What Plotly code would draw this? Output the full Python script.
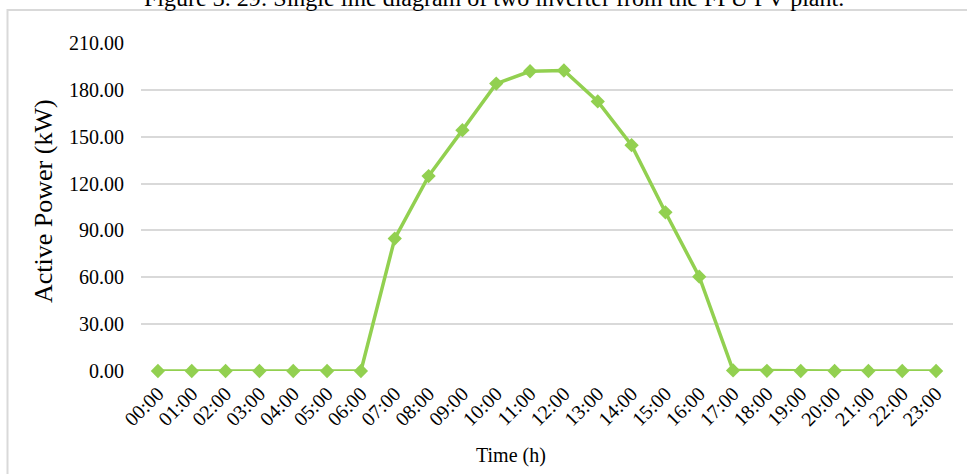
import plotly.graph_objects as go

# Hourly active power output of the PV plant
hours = [f"{h:02d}:00" for h in range(24)]
active_power_kw = [0.0, 0.0, 0.0, 0.0, 0.0, 0.0, 0.0,
                   84.8, 124.8, 154.2, 184.0, 191.9, 192.4, 172.6,
                   144.6, 101.6, 60.4, 0.4, 0.1, 0.0, 0.0, 0.0, 0.0, 0.0]
y_ticks = [0, 30, 60, 90, 120, 150, 180, 210]

W, H = 967, 474
ML, MR, MT, MB = 141, 14, 43, 103
PW, PH = W - ML - MR, H - MT - MB

FONT = "Liberation Serif, Times New Roman, serif"
GREEN = "#92D050"
GRID = "#D9D9D9"


def px_x(px):
    return (px - ML) / PW


def px_y(py):
    return (H - MB - py) / PH


fig = go.Figure()
fig.add_trace(go.Scatter(
    x=list(range(len(hours))),
    y=active_power_kw,
    mode="lines+markers",
    line=dict(color=GREEN, width=3.5),
    marker=dict(symbol="diamond", size=11, color=GREEN),
    showlegend=False,
    cliponaxis=False,
))

fig.update_layout(
    width=W, height=H,
    margin=dict(l=ML, r=MR, t=MT, b=MB),
    paper_bgcolor="white",
    plot_bgcolor="white",
    font=dict(family=FONT, size=20, color="#000000"),
    xaxis=dict(
        range=[-0.5, 23.5],
        tickmode="array",
        tickvals=list(range(len(hours))),
        ticktext=hours,
        tickangle=-45,
        showgrid=False,
        zeroline=False,
        showline=False,
        ticks="",
        tickfont=dict(family=FONT, size=20, color="#000000"),
        ticklabelstandoff=6,
    ),
    yaxis=dict(
        range=[0, 210],
        tickmode="array",
        tickvals=y_ticks,
        tickformat=".2f",
        showgrid=True,
        gridcolor=GRID,
        gridwidth=1.5,
        zeroline=False,
        showline=False,
        ticks="",
        tickfont=dict(family=FONT, size=20, color="#000000"),
        ticklabelstandoff=16,
    ),
    shapes=[
        # chart frame (left and top edges visible, rest runs off the page)
        dict(type="rect", xref="paper", yref="paper",
             x0=px_x(7.5), x1=px_x(W + 10), y0=px_y(H + 10), y1=px_y(10),
             line=dict(color=GRID, width=2), fillcolor="rgba(0,0,0,0)",
             layer="below"),
    ],
    annotations=[
        dict(text="Figure 3. 29: Single line diagram of two inverter from the FPU PV plant.",
             xref="paper", yref="paper", x=px_x(494), y=px_y(13),
             xanchor="center", yanchor="bottom", showarrow=False,
             font=dict(family=FONT, size=24, color="#000000")),
        dict(text="Active Power (kW)", xref="paper", yref="paper",
             x=px_x(43), y=px_y(201), xanchor="center", yanchor="middle",
             textangle=-90, showarrow=False,
             font=dict(family=FONT, size=26, color="#000000")),
        dict(text="Time (h)", xref="paper", yref="paper",
             x=px_x(511), y=px_y(455), xanchor="center", yanchor="middle",
             showarrow=False,
             font=dict(family=FONT, size=20, color="#000000")),
    ],
)

fig.write_html("out.html")
